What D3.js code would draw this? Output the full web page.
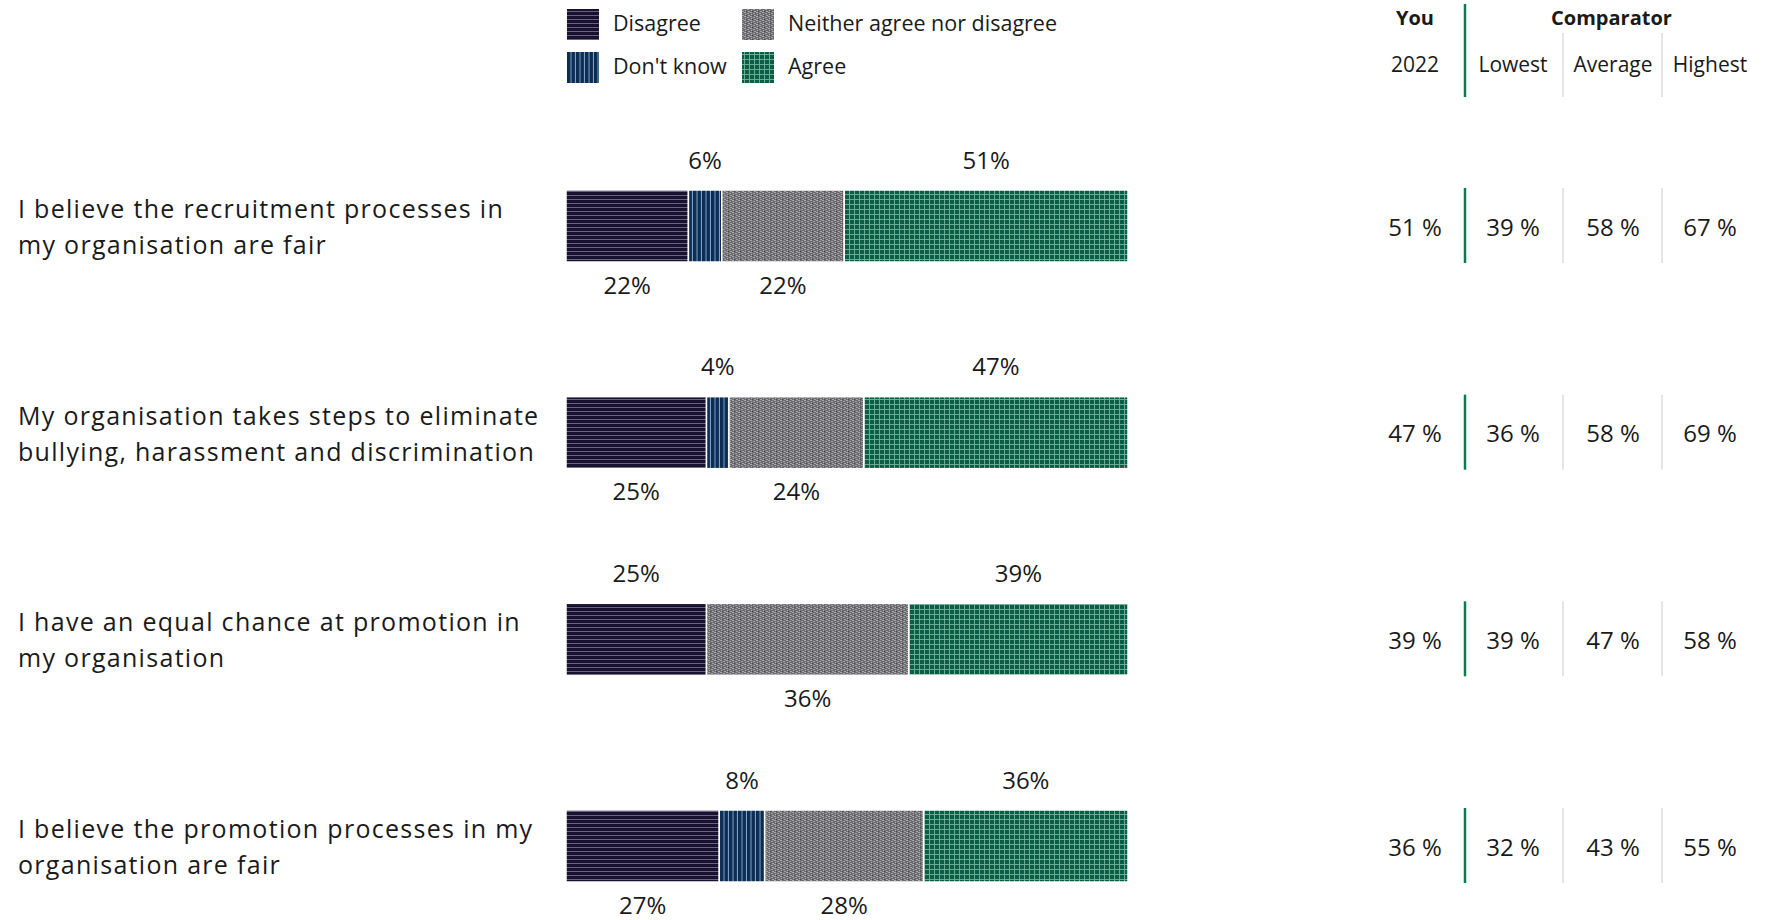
<!DOCTYPE html>
<html>
<head>
<meta charset="utf-8">
<script src="https://cdn.jsdelivr.net/npm/d3@7"></script>
<style>
  html, body { margin: 0; padding: 0; background: #ffffff; }
  svg { display: block; font-family: "Open Sans", "Noto Sans", sans-serif; }
</style>
</head>
<body>
<svg id="chart" width="1772" height="920"></svg>
<script>
// ---------- data ----------
const questions = [
  ["I believe the recruitment processes in", "my organisation are fair"],
  ["My organisation takes steps to eliminate", "bullying, harassment and discrimination"],
  ["I have an equal chance at promotion in", "my organisation"],
  ["I believe the promotion processes in my", "organisation are fair"]
];
const seriesNames = ["Disagree", "Don't know", "Neither agree nor disagree", "Agree"];
const disagree = [22, 25, 25, 27];
const dontKnow = [6, 4, 0, 8];
const neither  = [22, 24, 36, 28];
const agree    = [51, 47, 39, 36];

const tableHeaders = ["Lowest", "Average", "Highest"];
const youYear = "2022";
const you2022 = [51, 47, 39, 36];
const compLowest = [39, 36, 39, 32];
const compAverage = [58, 58, 47, 43];
const compHighest = [67, 69, 58, 55];

// ---------- setup ----------
const svg = d3.select("#chart");
const defs = svg.append("defs");
const textColor = "#1a1a1a";

// patterns
function pat(id, w, h, bg, draw) {
  const p = defs.append("pattern").attr("id", id)
    .attr("patternUnits", "userSpaceOnUse").attr("width", w).attr("height", h);
  p.append("rect").attr("width", w).attr("height", h).attr("fill", bg);
  draw(p);
}
pat("p-disagree", 8, 4, "#17122d", p => {
  p.append("rect").attr("x", 0).attr("y", 3).attr("width", 8).attr("height", 1).attr("fill", "#6b6088");
});
pat("p-dk", 4.5, 8, "#0d2c52", p => {
  p.append("rect").attr("x", 3.5).attr("y", 0).attr("width", 1).attr("height", 8).attr("fill", "#7fa6d0");
});
pat("p-neither", 6, 4, "#6c6c70", p => {
  p.append("rect").attr("x", 0).attr("y", 0).attr("width", 2).attr("height", 1).attr("fill", "#a9a9ad");
  p.append("rect").attr("x", 3).attr("y", 1).attr("width", 2).attr("height", 1).attr("fill", "#a0a0a4");
  p.append("rect").attr("x", 1).attr("y", 2).attr("width", 1).attr("height", 1).attr("fill", "#b4b4b8");
  p.append("rect").attr("x", 4).attr("y", 3).attr("width", 2).attr("height", 1).attr("fill", "#a4a4a8");
  p.append("rect").attr("x", 2).attr("y", 3).attr("width", 1).attr("height", 1).attr("fill", "#505054");
});
pat("p-agree", 5, 5, "#0b5e45", p => {
  p.append("rect").attr("x", 4).attr("y", 0).attr("width", 1).attr("height", 5).attr("fill", "#6aab92");
  p.append("rect").attr("x", 0).attr("y", 4).attr("width", 5).attr("height", 1).attr("fill", "#6aab92");
});
const patIds = ["p-disagree", "p-dk", "p-neither", "p-agree"];

// scales
const rowsIdx = d3.range(questions.length);
const yC = d3.scalePoint().domain(rowsIdx).range([226, 846]);
const barH = 72;
const barX0 = 566, barX1 = 1128;

// ---------- legend ----------
const legendPos = [[567, 9], [567, 52], [742, 9], [742, 52]];
const legendOrder = [0, 1, 2, 3];
const lg = svg.append("g");
legendOrder.forEach((s, i) => {
  const [lx, ly] = legendPos[i];
  lg.append("rect").attr("x", lx).attr("y", ly).attr("width", 32).attr("height", 31)
    .attr("fill", `url(#${patIds[s]})`);
  lg.append("text").attr("x", lx + 46).attr("y", ly + 13)
    .attr("dominant-baseline", "central").attr("font-size", 21.5).attr("fill", textColor)
    .text(seriesNames[s]);
});

// ---------- question labels ----------
const qg = svg.append("g");
rowsIdx.forEach(r => {
  const t = qg.append("text").attr("x", 18).attr("font-size", 25)
    .attr("letter-spacing", 1.3).attr("fill", textColor);
  questions[r].forEach((line, k) => {
    t.append("tspan").attr("x", 18).attr("y", yC(r) + (k === 0 ? -18 : 18))
      .attr("dominant-baseline", "central").text(line);
  });
});

// ---------- bars ----------
const seriesVals = [disagree, dontKnow, neither, agree];
const bg = svg.append("g");
rowsIdx.forEach(r => {
  const vals = seriesVals.map(s => s[r]);
  const total = d3.sum(vals);
  const x = d3.scaleLinear().domain([0, total]).range([barX0, barX1]);
  const stack = [];
  let acc = 0;
  vals.forEach((v, s) => { stack.push({ s, v, x0: acc, x1: acc + v }); acc += v; });
  const segs = stack.filter(d => d.v > 0);
  const yTop = yC(r) - barH / 2;
  bg.selectAll(null).data(segs).enter().append("rect")
    .attr("x", d => x(d.x0)).attr("y", yTop)
    .attr("width", d => x(d.x1) - x(d.x0)).attr("height", barH)
    .attr("fill", d => `url(#${patIds[d.s]})`)
    .attr("stroke", "#ffffff").attr("stroke-width", 1.5);
  const n = segs.length;
  bg.selectAll(null).data(segs).enter().append("text")
    .attr("x", d => (x(d.x0) + x(d.x1)) / 2)
    .attr("y", (d, i) => ((n - 1 - i) % 2 === 0) ? yTop - 31 : yTop + barH + 22)
    .attr("text-anchor", "middle").attr("dominant-baseline", "central")
    .attr("font-size", 24).attr("fill", textColor)
    .text(d => d.v + "%");
});

// ---------- table ----------
const colX = [1415, 1513, 1613, 1710];
const tg = svg.append("g");
tg.append("text").attr("x", colX[0]).attr("y", 17).attr("text-anchor", "middle")
  .attr("dominant-baseline", "central").attr("font-size", 20).attr("font-weight", 700)
  .attr("fill", textColor).text("You");
tg.append("text").attr("x", (colX[1] + colX[3]) / 2).attr("y", 17).attr("text-anchor", "middle")
  .attr("dominant-baseline", "central").attr("font-size", 20).attr("font-weight", 700)
  .attr("fill", textColor).text("Comparator");
tg.append("text").attr("x", colX[0]).attr("y", 64).attr("text-anchor", "middle")
  .attr("dominant-baseline", "central").attr("font-size", 21).attr("fill", textColor).text(youYear);
tableHeaders.forEach((h, i) => {
  tg.append("text").attr("x", colX[i + 1]).attr("y", 64).attr("text-anchor", "middle")
    .attr("dominant-baseline", "central").attr("font-size", 21).attr("fill", textColor).text(h);
});
const greenX = 1465, gray1 = 1563, gray2 = 1662;
const lineGreen = "#0a7d4f", lineGray = "#d4d4d4";
tg.append("line").attr("x1", greenX).attr("x2", greenX).attr("y1", 4).attr("y2", 97)
  .attr("stroke", lineGreen).attr("stroke-width", 2.5);
[gray1, gray2].forEach(gx => tg.append("line").attr("x1", gx).attr("x2", gx).attr("y1", 33).attr("y2", 97)
  .attr("stroke", lineGray).attr("stroke-width", 1.2));

const tableCols = [you2022, compLowest, compAverage, compHighest];
rowsIdx.forEach(r => {
  const cy = yC(r);
  tg.append("line").attr("x1", greenX).attr("x2", greenX).attr("y1", cy - 38).attr("y2", cy + 37)
    .attr("stroke", lineGreen).attr("stroke-width", 2.5);
  [gray1, gray2].forEach(gx => tg.append("line").attr("x1", gx).attr("x2", gx)
    .attr("y1", cy - 38).attr("y2", cy + 37).attr("stroke", lineGray).attr("stroke-width", 1.2));
  tableCols.forEach((col, c) => {
    tg.append("text").attr("x", colX[c]).attr("y", cy).attr("text-anchor", "middle")
      .attr("dominant-baseline", "central").attr("font-size", 24).attr("fill", textColor)
      .text(col[r] + " %");
  });
});
</script>
</body>
</html>
